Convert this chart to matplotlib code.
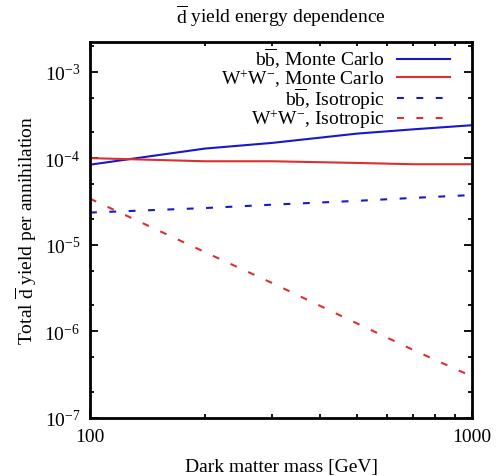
import numpy as np
import matplotlib
matplotlib.use("Agg")
import matplotlib.pyplot as plt
from matplotlib.ticker import LogLocator, NullFormatter, FixedLocator, FixedFormatter

plt.rcParams['font.family'] = ['Liberation Serif', 'DejaVu Serif']
plt.rcParams['mathtext.fontset'] = 'custom'
plt.rcParams['mathtext.rm'] = 'Liberation Serif'
plt.rcParams['mathtext.it'] = 'Liberation Serif:italic'

# dark matter mass [GeV]
mass = [100, 200, 300, 500, 700, 1000]

# total antideuteron yield per annihilation
bb_mc = [8.4e-5, 1.29e-4, 1.50e-4, 1.92e-4, 2.15e-4, 2.40e-4]
ww_mc = [1.0e-4, 9.2e-5, 9.2e-5, 8.8e-5, 8.5e-5, 8.5e-5]
bb_iso = [2.35e-5, 2.65e-5, 2.90e-5, 3.21e-5, 3.47e-5, 3.75e-5]
ww_iso = [3.4e-5, 8.2e-6, 3.6e-6, 1.23e-6, 6.1e-7, 3.0e-7]

labels = [r'$\mathrm{b\overline{b}}$, Monte Carlo',
          r'W$^{+}$W$^{-}$, Monte Carlo',
          r'$\mathrm{b\overline{b}}$, Isotropic',
          r'W$^{+}$W$^{-}$, Isotropic']

blue = '#1818c8'
red = '#dc3030'

fig = plt.figure(figsize=(4.97, 4.77), dpi=100)
ax = fig.add_axes([0.181, 0.122, 0.769, 0.788])

ax.plot(mass, bb_mc, color=blue, lw=1.5, label=labels[0])
ax.plot(mass, ww_mc, color=red, lw=1.5, label=labels[1])
ax.plot(mass, bb_iso, color=blue, lw=1.5, dashes=(3.3, 6.0), label=labels[2])
ax.plot(mass, ww_iso, color=red, lw=1.5, dashes=(3.3, 6.0), label=labels[3])

ax.set_xscale('log')
ax.set_yscale('log')
ax.set_xlim(100, 1000)
ax.set_ylim(1e-7, 2.2e-3)

ax.xaxis.set_major_locator(FixedLocator([100, 1000]))
ax.xaxis.set_major_formatter(FixedFormatter(['100', '1000']))
ax.xaxis.set_minor_locator(FixedLocator([200, 300, 400, 500, 600, 700, 800, 900]))
ax.xaxis.set_minor_formatter(NullFormatter())
ax.yaxis.set_major_locator(LogLocator(base=10, numticks=10))
ax.yaxis.set_minor_locator(LogLocator(base=10, subs=(2.0, 5.0), numticks=10))
ax.yaxis.set_minor_formatter(NullFormatter())

ax.tick_params(which='both', direction='in', top=True, right=True, width=1.3,
               labelsize=14, pad=7)
ax.tick_params(which='major', length=6)
ax.tick_params(which='minor', length=3)
for s in ax.spines.values():
    s.set_linewidth(2)

ax.set_xlabel('Dark matter mass [GeV]', fontsize=14, labelpad=10)
ax.set_ylabel(r'Total $\mathrm{\overline{d}}$ yield per annihilation', fontsize=14, labelpad=4)
ax.set_title(r'$\mathrm{\overline{d}}$ yield energy dependence', fontsize=14, pad=14)

ax.legend(loc='upper right', bbox_to_anchor=(0.942, 0.99), frameon=False,
          markerfirst=False, fontsize=14, handlelength=2.7, handletextpad=0.65,
          labelspacing=-0.17, borderaxespad=0, borderpad=0)

fig.savefig('out.png', dpi=100)
